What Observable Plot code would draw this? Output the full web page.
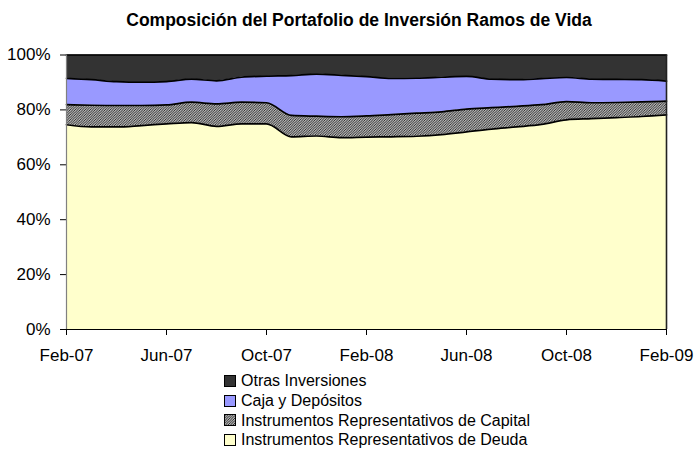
<!DOCTYPE html>
<html>
<head>
<meta charset="utf-8">
<script src="https://cdn.jsdelivr.net/npm/d3@7"></script>
<script src="https://cdn.jsdelivr.net/npm/@observablehq/plot@0.6"></script>
<style>
  body { margin: 0; background: #fff; font-family: "Liberation Sans", Arial, sans-serif; }
  #wrap { width: 694px; height: 450px; position: relative; }
  #title { height: 40px; line-height: 40px; text-align: center; font-weight: bold; font-size: 17.5px; padding-left: 24px; color: #000; }
  #legend { padding-left: 224px; padding-top: 1px; font-size: 16px; color: #000; }
  .row { height: 19.8px; line-height: 19.8px; display: flex; align-items: center; }
  .row svg { margin-right: 5px; }
</style>
</head>
<body>
<svg width="0" height="0" style="position:absolute">
  <defs>
    <pattern id="hatch" width="2.5" height="2.5" patternUnits="userSpaceOnUse">
      <rect width="2.5" height="2.5" fill="#ffffff"/>
      <path d="M-1,1 L1,-1 M0,2.5 L2.5,0 M1.5,3.5 L3.5,1.5" stroke="#111" stroke-width="1"/>
    </pattern>
  </defs>
</svg>
<div id="wrap">
  <div id="title">Composición del Portafolio de Inversión Ramos de Vida</div>
  <div id="chart"></div>
  <div id="legend"></div>
</div>
<script>
const months = ["Feb-07","Mar-07","Abr-07","May-07","Jun-07","Jul-07","Ago-07","Sep-07","Oct-07","Nov-07","Dic-07","Ene-08",
                "Feb-08","Mar-08","Abr-08","May-08","Jun-08","Jul-08","Ago-08","Sep-08","Oct-08","Nov-08","Dic-08","Ene-09","Feb-09"];
const seriesNames = ["Instrumentos Representativos de Deuda","Instrumentos Representativos de Capital","Caja y Depósitos","Otras Inversiones"];
const deuda   = [74.6,73.8,73.8,74.3,74.9,75.4,74.0,74.9,74.9,70.2,70.5,69.9,70.1,70.2,70.4,71.0,72.0,73.0,73.8,74.7,76.4,76.8,77.2,77.6,78.2];
const capital = [7.3,7.9,7.8,7.3,6.9,7.4,8.2,7.9,7.7,7.8,7.2,7.6,7.7,8.1,8.4,8.3,8.3,7.8,7.5,7.2,6.6,5.8,5.5,5.3,5.0];
const caja    = [9.6,9.3,8.7,8.5,8.5,8.4,8.4,9.1,9.7,14.5,15.3,15.1,14.3,13.2,12.8,12.6,11.9,10.4,9.7,9.5,8.8,8.6,8.4,8.1,7.3];
const otras   = [8.5,9.0,9.7,9.9,9.7,8.8,9.4,8.1,7.7,7.5,7.0,7.4,7.9,8.5,8.4,8.1,7.8,8.8,9.0,8.6,8.2,8.8,8.9,9.0,9.5];
const xTicks = ["Feb-07","Jun-07","Oct-07","Feb-08","Jun-08","Oct-08","Feb-09"];
const yTicks = [0,20,40,60,80,100];
const fills = ["#FFFFCC","url(#hatch)","#9999FF","#333333"];

const seriesValues = [deuda, capital, caja, otras];
const data = [];
seriesNames.forEach((s, k) => {
  months.forEach((m, i) => data.push({i, month: m, series: s, value: seriesValues[k][i]}));
});

const stackOpts = {x: "i", y: "value", z: "series", order: seriesNames};

const chart = Plot.plot({
  width: 694,
  height: 330,
  marginTop: 14.5,
  marginBottom: 41,
  marginLeft: 66,
  marginRight: 28,
  style: {fontFamily: "'Liberation Sans', Arial, sans-serif", fontSize: "17px", color: "#000", background: "#fff"},
  x: {domain: [0, months.length - 1], ticks: xTicks.map(t => months.indexOf(t)), tickFormat: i => months[i], tickSize: 6, tickPadding: 13, label: null},
  y: {domain: [0, 100], ticks: yTicks, tickFormat: d => d + "%", tickSize: 6, tickPadding: 10, label: null},
  color: {type: "ordinal", domain: seriesNames, range: fills},
  marks: [
    Plot.areaY(data, Plot.stackY({...stackOpts, fill: "series", curve: "monotone-x"})),
    Plot.lineY(data, Plot.stackY2({...stackOpts, stroke: "#000", strokeWidth: 1.7, curve: "monotone-x"})),
    Plot.ruleX([0], {stroke: "#808080", strokeWidth: 1.2}),
    Plot.ruleX([months.length - 1], {stroke: "#222", strokeWidth: 1.6}),
    Plot.ruleY([0], {stroke: "#000", strokeWidth: 1.2})
  ]
});
document.getElementById("chart").appendChild(chart);

const legend = document.getElementById("legend");
const legendOrder = [3, 2, 1, 0];
legendOrder.forEach(k => {
  const row = document.createElement("div");
  row.className = "row";
  row.innerHTML = `<svg width="12" height="12"><rect x="0.5" y="0.5" width="11" height="11" fill="${fills[k]}" stroke="#000" stroke-width="1"/></svg><span>${seriesNames[k]}</span>`;
  legend.appendChild(row);
});
</script>
</body>
</html>
